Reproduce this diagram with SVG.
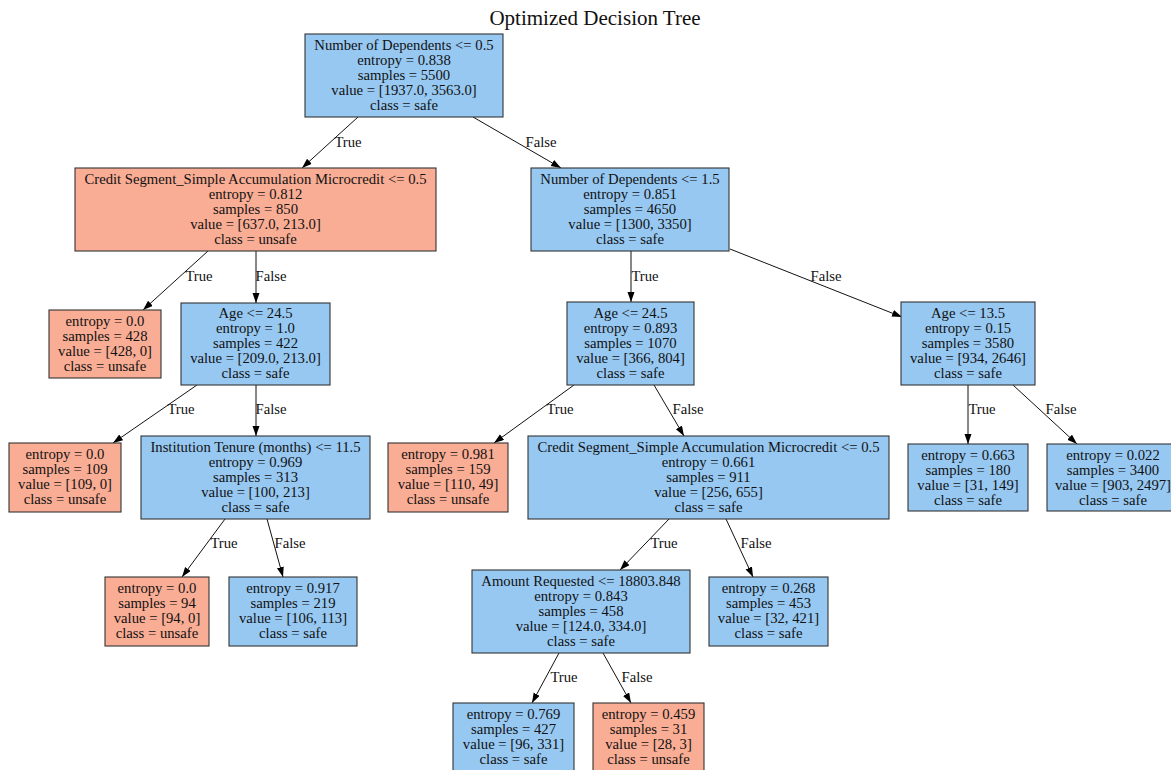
<svg xmlns="http://www.w3.org/2000/svg" width="1171" height="770" viewBox="0 0 1171 770">
<style>
text{font-family:"Liberation Serif","Times New Roman",serif;font-size:14.7px;fill:#111;}
.t{text-anchor:middle;}
.title{font-size:21px;text-anchor:middle;}
.safe{fill:#97c8f1;stroke:#333;stroke-width:1.1;}
.unsafe{fill:#f9ad95;stroke:#333;stroke-width:1.1;}
.e{stroke:#111;stroke-width:1;fill:none;marker-end:url(#ah);}
.lbl{text-anchor:middle;}
</style>
<defs>
<marker id="ah" markerUnits="userSpaceOnUse" markerWidth="10" markerHeight="8" refX="10" refY="3.5" orient="auto">
<path d="M0,0 L10,3.5 L0,7 z" fill="#000"/>
</marker>
</defs>
<rect width="1171" height="770" fill="#fff"/>
<text class="title" x="595" y="25">Optimized Decision Tree</text>

<g id="connectors">
<line class="e" x1="358" y1="117" x2="302" y2="168"/>
<line class="e" x1="473" y1="117" x2="561" y2="168"/>
<line class="e" x1="208" y1="251" x2="143" y2="310"/>
<line class="e" x1="256" y1="251" x2="256" y2="303"/>
<line class="e" x1="197" y1="385" x2="113" y2="443"/>
<line class="e" x1="256" y1="385" x2="256" y2="436"/>
<line class="e" x1="225" y1="519" x2="182" y2="577"/>
<line class="e" x1="267" y1="519" x2="283" y2="577"/>
<line class="e" x1="631" y1="251" x2="631" y2="302"/>
<line class="e" x1="730" y1="249" x2="902" y2="317"/>
<line class="e" x1="574" y1="385" x2="494" y2="443"/>
<line class="e" x1="654" y1="385" x2="684" y2="436"/>
<line class="e" x1="669" y1="519" x2="620" y2="570"/>
<line class="e" x1="726" y1="519" x2="753" y2="577"/>
<line class="e" x1="559" y1="653" x2="532" y2="703"/>
<line class="e" x1="603" y1="653" x2="631" y2="703"/>
<line class="e" x1="968" y1="385" x2="968" y2="444"/>
<line class="e" x1="1013" y1="385" x2="1077" y2="444"/>
<text class="lbl" x="348" y="147">True</text>
<text class="lbl" x="541" y="147">False</text>
<text class="lbl" x="199" y="281">True</text>
<text class="lbl" x="271" y="281">False</text>
<text class="lbl" x="181" y="414">True</text>
<text class="lbl" x="271" y="414">False</text>
<text class="lbl" x="224" y="548">True</text>
<text class="lbl" x="290" y="548">False</text>
<text class="lbl" x="645" y="281">True</text>
<text class="lbl" x="826" y="281">False</text>
<text class="lbl" x="560" y="414">True</text>
<text class="lbl" x="688" y="414">False</text>
<text class="lbl" x="664" y="548">True</text>
<text class="lbl" x="756" y="548">False</text>
<text class="lbl" x="564" y="682">True</text>
<text class="lbl" x="637" y="682">False</text>
<text class="lbl" x="982" y="414">True</text>
<text class="lbl" x="1061" y="414">False</text>
</g>

<g id="node0">
<rect class="safe" x="305" y="34" width="198" height="83"/>
<text class="t" x="404" y="50">Number of Dependents &lt;= 0.5</text>
<text class="t" x="404" y="65">entropy = 0.838</text>
<text class="t" x="404" y="80">samples = 5500</text>
<text class="t" x="404" y="95">value = [1937.0, 3563.0]</text>
<text class="t" x="404" y="110">class = safe</text>
</g>

<g id="node1">
<rect class="unsafe" x="75" y="168" width="361" height="83"/>
<text class="t" x="255.5" y="184">Credit Segment_Simple Accumulation Microcredit &lt;= 0.5</text>
<text class="t" x="255.5" y="199">entropy = 0.812</text>
<text class="t" x="255.5" y="214">samples = 850</text>
<text class="t" x="255.5" y="229">value = [637.0, 213.0]</text>
<text class="t" x="255.5" y="244">class = unsafe</text>
</g>

<g id="node2">
<rect class="unsafe" x="49" y="310" width="112" height="68"/>
<text class="t" x="105" y="326">entropy = 0.0</text>
<text class="t" x="105" y="341">samples = 428</text>
<text class="t" x="105" y="356">value = [428, 0]</text>
<text class="t" x="105" y="371">class = unsafe</text>
</g>

<g id="node3">
<rect class="safe" x="181" y="303" width="149" height="82"/>
<text class="t" x="255.5" y="318">Age &lt;= 24.5</text>
<text class="t" x="255.5" y="333">entropy = 1.0</text>
<text class="t" x="255.5" y="348">samples = 422</text>
<text class="t" x="255.5" y="363">value = [209.0, 213.0]</text>
<text class="t" x="255.5" y="378">class = safe</text>
</g>

<g id="node4">
<rect class="unsafe" x="9" y="443" width="112" height="69"/>
<text class="t" x="65" y="459">entropy = 0.0</text>
<text class="t" x="65" y="474">samples = 109</text>
<text class="t" x="65" y="489">value = [109, 0]</text>
<text class="t" x="65" y="504">class = unsafe</text>
</g>

<g id="node5">
<rect class="safe" x="141" y="436" width="229" height="83"/>
<text class="t" x="255.5" y="452">Institution Tenure (months) &lt;= 11.5</text>
<text class="t" x="255.5" y="467">entropy = 0.969</text>
<text class="t" x="255.5" y="482">samples = 313</text>
<text class="t" x="255.5" y="497">value = [100, 213]</text>
<text class="t" x="255.5" y="512">class = safe</text>
</g>

<g id="node6">
<rect class="unsafe" x="105" y="577" width="104" height="69"/>
<text class="t" x="157" y="593">entropy = 0.0</text>
<text class="t" x="157" y="608">samples = 94</text>
<text class="t" x="157" y="623">value = [94, 0]</text>
<text class="t" x="157" y="638">class = unsafe</text>
</g>

<g id="node7">
<rect class="safe" x="229" y="577" width="128" height="69"/>
<text class="t" x="293" y="593">entropy = 0.917</text>
<text class="t" x="293" y="608">samples = 219</text>
<text class="t" x="293" y="623">value = [106, 113]</text>
<text class="t" x="293" y="638">class = safe</text>
</g>

<g id="node8">
<rect class="safe" x="531" y="168" width="198" height="83"/>
<text class="t" x="630" y="184">Number of Dependents &lt;= 1.5</text>
<text class="t" x="630" y="199">entropy = 0.851</text>
<text class="t" x="630" y="214">samples = 4650</text>
<text class="t" x="630" y="229">value = [1300, 3350]</text>
<text class="t" x="630" y="244">class = safe</text>
</g>

<g id="node9">
<rect class="safe" x="567" y="302" width="127" height="83"/>
<text class="t" x="630.5" y="318">Age &lt;= 24.5</text>
<text class="t" x="630.5" y="333">entropy = 0.893</text>
<text class="t" x="630.5" y="348">samples = 1070</text>
<text class="t" x="630.5" y="363">value = [366, 804]</text>
<text class="t" x="630.5" y="378">class = safe</text>
</g>

<g id="node10">
<rect class="unsafe" x="388" y="443" width="120" height="69"/>
<text class="t" x="448" y="459">entropy = 0.981</text>
<text class="t" x="448" y="474">samples = 159</text>
<text class="t" x="448" y="489">value = [110, 49]</text>
<text class="t" x="448" y="504">class = unsafe</text>
</g>

<g id="node11">
<rect class="safe" x="528" y="436" width="361" height="83"/>
<text class="t" x="708.5" y="452">Credit Segment_Simple Accumulation Microcredit &lt;= 0.5</text>
<text class="t" x="708.5" y="467">entropy = 0.661</text>
<text class="t" x="708.5" y="482">samples = 911</text>
<text class="t" x="708.5" y="497">value = [256, 655]</text>
<text class="t" x="708.5" y="512">class = safe</text>
</g>

<g id="node12">
<rect class="safe" x="472" y="570" width="218" height="83"/>
<text class="t" x="581" y="586">Amount Requested &lt;= 18803.848</text>
<text class="t" x="581" y="601">entropy = 0.843</text>
<text class="t" x="581" y="616">samples = 458</text>
<text class="t" x="581" y="631">value = [124.0, 334.0]</text>
<text class="t" x="581" y="646">class = safe</text>
</g>

<g id="node13">
<rect class="safe" x="453" y="703" width="121" height="69"/>
<text class="t" x="513.5" y="719">entropy = 0.769</text>
<text class="t" x="513.5" y="734">samples = 427</text>
<text class="t" x="513.5" y="749">value = [96, 331]</text>
<text class="t" x="513.5" y="764">class = safe</text>
</g>

<g id="node14">
<rect class="unsafe" x="593" y="703" width="111" height="69"/>
<text class="t" x="648.5" y="719">entropy = 0.459</text>
<text class="t" x="648.5" y="734">samples = 31</text>
<text class="t" x="648.5" y="749">value = [28, 3]</text>
<text class="t" x="648.5" y="764">class = unsafe</text>
</g>

<g id="node15">
<rect class="safe" x="709" y="577" width="119" height="69"/>
<text class="t" x="768.5" y="593">entropy = 0.268</text>
<text class="t" x="768.5" y="608">samples = 453</text>
<text class="t" x="768.5" y="623">value = [32, 421]</text>
<text class="t" x="768.5" y="638">class = safe</text>
</g>

<g id="node16">
<rect class="safe" x="901" y="302" width="134" height="83"/>
<text class="t" x="968" y="318">Age &lt;= 13.5</text>
<text class="t" x="968" y="333">entropy = 0.15</text>
<text class="t" x="968" y="348">samples = 3580</text>
<text class="t" x="968" y="363">value = [934, 2646]</text>
<text class="t" x="968" y="378">class = safe</text>
</g>

<g id="node17">
<rect class="safe" x="908" y="444" width="120" height="67"/>
<text class="t" x="968" y="460">entropy = 0.663</text>
<text class="t" x="968" y="475">samples = 180</text>
<text class="t" x="968" y="490">value = [31, 149]</text>
<text class="t" x="968" y="505">class = safe</text>
</g>

<g id="node18">
<rect class="safe" x="1047" y="444" width="132" height="67"/>
<text class="t" x="1113" y="460">entropy = 0.022</text>
<text class="t" x="1113" y="475">samples = 3400</text>
<text class="t" x="1113" y="490">value = [903, 2497]</text>
<text class="t" x="1113" y="505">class = safe</text>
</g>
</svg>
